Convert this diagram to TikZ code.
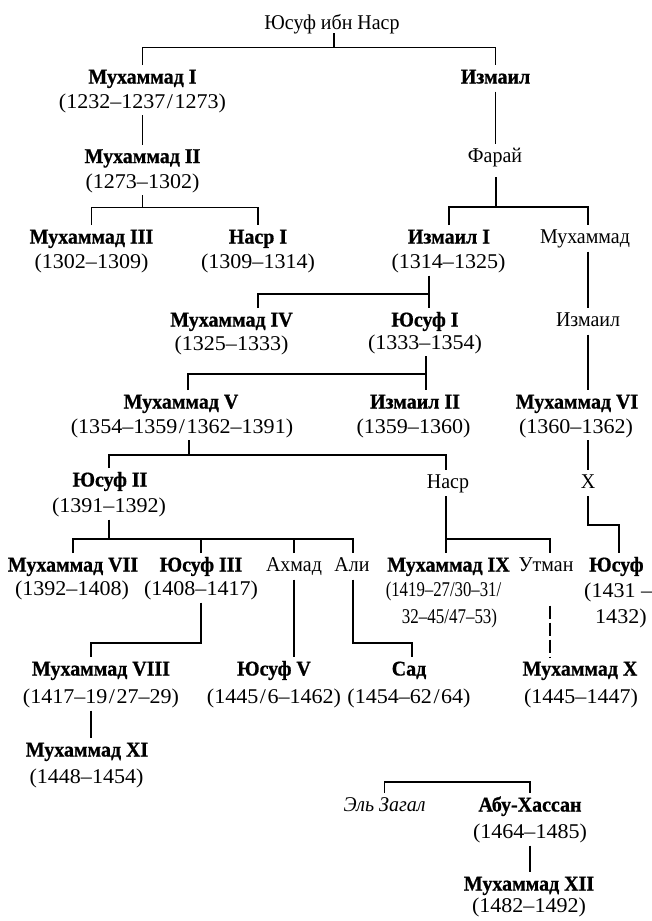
\documentclass[tikz,border=0pt]{standalone}
\usepackage{fontspec}
\setmainfont{Liberation Serif}[FakeStretch=0.95, BoldFeatures={FakeBold=0.8}]
\newfontfamily\dtfam{Liberation Serif}[FakeStretch=1.05]
\usepackage{graphicx}
\newcommand\treesz{\fontsize{21}{25}\selectfont}
\newcommand\datesz{\dtfam\fontsize{21}{25}\selectfont}
\newcommand\sls{\kern1.5pt/\kern1.5pt}
\tikzset{
  nm/.style={anchor=base, inner sep=0pt, text height=17pt, text depth=6.5pt, outer ysep=1.5pt, font=\treesz\bfseries},
  pl/.style={nm, font=\treesz},
  itl/.style={nm, font=\treesz\itshape},
  dt/.style={anchor=base, inner sep=0pt, text height=14pt, text depth=4pt, outer ysep=3pt, font=\datesz},
  ln/.style={line width=1.3pt},
  dsh/.style={line width=1.3pt, dash pattern=on 13pt off 4pt},
}
\begin{document}
\begin{tikzpicture}[x=1pt,y=-1pt]
\useasboundingbox (0,0) rectangle (652,921);
\fill[white] (0,0) rectangle (652,921);

\node[pl] (root) at (332,29) {Юсуф ибн Наср};
\node[nm] (mI) at (142.5,83.5) {Мухаммад I};
\node[dt] (mId) at (142.5,108) {(1232–1237\sls1273)};
\node[nm] (izm) at (495.5,83.5) {Измаил};
\node[nm] (mII) at (142.5,163) {Мухаммад II};
\node[dt] (mIId) at (142.5,188) {(1273–1302)};
\node[pl] (farai) at (495,162) {Фарай};
\node[nm] (mIII) at (91.5,243.5) {Мухаммад III};
\node[dt] (mIIId) at (91.5,268.5) {(1302–1309)};
\node[nm] (nasrI) at (258,243.5) {Наср I};
\node[dt] (nasrId) at (258,268.5) {(1309–1314)};
\node[nm] (izmI) at (449,243.5) {Измаил I};
\node[dt] (izmId) at (448.5,268.5) {(1314–1325)};
\node[pl] (muh) at (585,243.5) {Мухаммад};
\node[nm] (mIV) at (231.5,326.5) {Мухаммад IV};
\node[dt] (mIVd) at (231.5,350) {(1325–1333)};
\node[nm] (yusI) at (425,326.5) {Юсуф I};
\node[dt] (yusId) at (425,349) {(1333–1354)};
\node[pl] (izm2) at (588,326.5) {Измаил};
\node[nm] (mV) at (181,408.5) {Мухаммад V};
\node[dt] (mVd) at (182,433) {(1354–1359\sls1362–1391)};
\node[nm] (izmII) at (415,408.5) {Измаил II};
\node[dt] (izmIId) at (413.5,433) {(1359–1360)};
\node[nm] (mVI) at (577,408.5) {Мухаммад VI};
\node[dt] (mVId) at (576,433) {(1360–1362)};
\node[nm] (yusII) at (110,486.5) {Юсуф II};
\node[dt] (yusIId) at (109,512.5) {(1391–1392)};
\node[pl] (nasr) at (448,488) {Наср};
\node[pl] (kh) at (588,488) {X};
\node[nm] (mVII) at (73,571.5) {Мухаммад VII};
\node[dt] (mVIId) at (72,595.5) {(1392–1408)};
\node[nm] (yusIII) at (201,571.5) {Юсуф III};
\node[dt] (yusIIId) at (201,595.5) {(1408–1417)};
\node[pl] (ahmad) at (294,571.5) {Ахмад};
\node[pl] (ali) at (352,571.5) {Али};
\node[nm] (mIX) at (448.5,571.5) {Мухаммад IX};
\node[dt] (mIXd) at (443.5,596) {\scalebox{0.76}[1]{(1419–27/30–31/}};
\node[dt] (mIXe) at (449.5,623) {\scalebox{0.77}[1]{32–45/47–53)}};
\node[pl] (utman) at (546,571.5) {Утман};
\node[nm, anchor=base west] (yusR) at (589,571.5) {Юсуф};
\node[dt, anchor=base west] (yusRd) at (584,597) {(1431 –};
\node[dt, anchor=base west] (yusRe) at (595,623) {1432)};
\node[nm] (mVIII) at (101,675.5) {Мухаммад VIII};
\node[dt] (mVIIId) at (101,703.5) {(1417–19\sls27–29)};
\node[nm] (yusV) at (274,675.5) {Юсуф V};
\node[dt] (yusVd) at (274,703.5) {(1445\sls6–1462)};
\node[nm] (sad) at (409,675.5) {Сад};
\node[dt] (sadd) at (409,703.5) {(1454–62\sls64)};
\node[nm] (mX) at (580,675.5) {Мухаммад X};
\node[dt] (mXd) at (581,703.5) {(1445–1447)};
\node[nm] (mXI) at (87,756.5) {Мухаммад XI};
\node[dt] (mXId) at (86.5,783.5) {(1448–1454)};
\node[itl] (zagal) at (384.5,811.5) {Эль Загал};
\node[nm] (abu) at (530,811.5) {Абу-Хассан};
\node[dt] (abud) at (530,838.5) {(1464–1485)};
\node[nm] (mXII) at (529,890.5) {Мухаммад XII};
\node[dt] (mXIId) at (529,912.5) {(1482–1492)};

\coordinate (j0) at (334,47.5);
\coordinate (j1) at (142.5,207.5);
\coordinate (j2) at (496,207);
\coordinate (j3) at (429,294);
\coordinate (j4) at (426,374);
\coordinate (j5) at (189,455);
\coordinate (j6) at (619,525);
\coordinate (j7) at (109,539);
\coordinate (j8) at (446,539);
\coordinate (j9) at (201,643);
\coordinate (j10) at (353,643);
\coordinate (j11) at (457,782);

\begin{scope}[ln]
\draw[shorten <=-4pt] (root.south -| j0) -- (j0);
\draw (mI.north) |- (j0) -| (izm.north);
\draw (mId.south) -- (mId.south |- mII.north);
\draw (izm.south) -- (izm.south |- farai.north);
\draw (mIId.south -| j1) -- (j1);
\draw (mIII.north) |- (j1) -| (nasrI.north);
\draw[shorten <=7pt] (farai.south -| j2) -- (j2);
\draw (izmI.north) |- (j2) -| ([xshift=3pt]muh.north);
\draw ([xshift=3pt]muh.south) -- ([xshift=3pt]muh.south |- izm2.north);
\draw (izmId.south -| j3) -- (yusI.north -| j3);
\draw ([xshift=26.5pt]mIV.north) |- (j3);
\draw (yusId.south -| j4) -- (izmII.north -| j4);
\draw ([xshift=7pt]mV.north) |- (j4);
\draw (izm2.south) -- (izm2.south |- mVI.north);
\draw (mVd.south -| j5) -- (j5);
\draw (yusII.north -| j7) |- (j5) -| (nasr.north -| j8);
\draw (mVId.south -| kh) -- (kh.north);
\draw (kh.south) |- (j6) -- (j6 |- yusR.north);
\draw (yusIId.south -| j7) -- (j7);
\draw (mVII.north) |- (j7) -| (ali.north -| j10);
\draw (yusIII.north) -- (yusIII.north |- j7);
\draw (ahmad.north) -- (ahmad.north |- j7);
\draw (nasr.south -| j8) -- (mIX.north -| j8);
\draw (j8) -| ([xshift=4pt]utman.north);
\draw (yusIIId.south) -- (j9) -| ([xshift=-10pt]mVIII.north);
\draw (ahmad.south) -- (ahmad.south |- yusV.north);
\draw (ali.south -| j10) -- (j10) -| ([xshift=3pt]sad.north);
\draw ([xshift=-10pt]mVIIId.south) -- ([xshift=-10pt]mVIIId.south |- mXI.north);
\draw (zagal.north) |- (j11) -| (abu.north);
\draw (abud.south) -- (abud.south |- mXII.north);
\end{scope}
\draw[dsh, shorten <=26pt] ([xshift=4pt]utman.south) -- ([xshift=4pt]utman.south |- mX.north);
\end{tikzpicture}
\end{document}
